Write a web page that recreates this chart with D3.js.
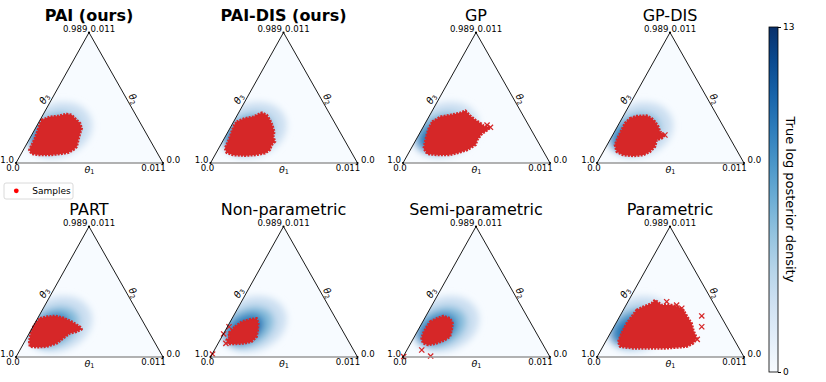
<!DOCTYPE html>
<html>
<head>
<meta charset="utf-8">
<script src="https://cdn.jsdelivr.net/npm/d3@7"></script>
<style>
  body { margin: 0; background: #fff; }
  text { font-family: "DejaVu Sans", sans-serif; fill: #000; }
</style>
</head>
<body>
<svg id="chart" width="826" height="382"></svg>
<script>
// all theta values are in units of 1e-3 (the plotted corner of the simplex goes up to 0.011)
const titles = ["PAI (ours)", "PAI-DIS (ours)", "GP", "GP-DIS",
                "PART", "Non-parametric", "Semi-parametric", "Parametric"];
const boldTitle = [true, true, false, false, false, false, false, false];
const thetaMax = 11;
const apexLabels = ["0.989", "0.011"];
const leftLabels = ["1.0", "0.0"];
const rightLabels = ["0.0", "0.011"];
const axisNames = ["1", "2", "3"];
const colorbarTicks = [0, 13];
const colorbarLabel = "True log posterior density";
const legendLabel = "Samples";

// true posterior: nested blobs [theta1, theta2, spread1, spread2, tilt, log density]
const density = [
  [1.76, 2.78, 2.62, 2.02, -20, 2.8],
  [1.59, 2.53, 2.02, 1.42, -25, 5.6],
  [1.37, 2.36, 1.65, 1.05, -30, 8.4],
  [1.56, 2.28, 1.12, 0.67, -25, 10.4]
];

// outline of each sample cloud, [theta1, theta2]
const clouds = [
  [[0.12,3.62],[0.61,3.90],[1.20,3.96],[1.74,4.13],[2.16,4.05],[2.74,3.62],[3.13,3.35],[3.46,2.93],
   [3.55,2.50],[3.70,1.94],[3.86,1.37],[3.74,1.10],[3.48,0.87],[2.92,0.76],[2.21,0.67],[1.46,0.67],
   [0.80,0.76],[0.45,1.10],[0.42,1.52],[0.39,2.08],[0.28,2.64],[0.15,3.20]],
  [[0.23,3.48],[0.71,3.77],[1.26,3.90],[1.73,4.24],[2.20,4.05],[2.65,3.62],[3.03,3.20],[3.46,2.64],
   [3.60,2.22],[3.93,1.80],[3.82,1.52],[3.90,1.10],[3.67,0.82],[2.99,0.67],[2.27,0.62],[1.37,0.67],
   [0.78,0.87],[0.47,1.24],[0.43,1.66],[0.36,2.22],[0.25,2.78],[0.19,3.20]],
  [[0.46,3.48],[0.87,3.90],[1.54,4.05],[2.20,4.24],[2.48,4.41],[3.08,3.96],[3.62,3.62],[4.14,3.35],
   [4.50,3.12],[5.05,3.01],[4.86,2.64],[4.68,2.50],[4.59,1.94],[4.67,1.52],[4.26,1.10],[3.74,0.87],
   [3.09,0.67],[2.34,0.67],[1.44,0.76],[0.94,1.24],[0.72,1.94],[0.57,2.50],[0.48,2.93]],
  [[0.60,3.77],[1.00,3.96],[1.74,3.99],[2.22,3.77],[2.61,3.48],[3.07,3.06],[3.40,2.64],[3.91,2.36],
   [3.81,2.08],[3.50,1.94],[3.66,1.37],[3.49,0.95],[3.13,0.67],[2.42,0.59],[1.63,0.67],[1.00,0.95],
   [0.59,1.52],[0.49,2.22],[0.46,2.78],[0.43,3.35]],
  [[0.18,3.26],[0.61,3.40],[1.20,3.46],[1.89,3.31],[2.69,2.98],[3.52,2.55],[3.75,2.34],[3.48,2.13],
   [3.04,2.00],[2.75,1.58],[2.47,1.15],[1.86,0.87],[1.14,0.82],[0.61,0.87],[0.35,1.29],[0.10,2.00],
   [0.03,2.55],[0.07,2.98]],
  [[0.57,2.55],[0.86,2.98],[1.38,3.18],[1.84,3.26],[2.16,2.84],[2.40,2.28],[2.60,1.71],[2.44,1.29],
   [2.00,1.15],[1.29,1.10],[0.79,1.10],[0.50,1.43],[0.61,1.71],[0.34,2.00],[0.46,2.28]],
  [[0.55,2.98],[0.91,3.26],[1.30,3.46],[1.90,3.26],[2.30,2.84],[2.51,2.28],[2.66,1.71],[2.43,1.43],
   [1.94,1.15],[1.39,1.01],[0.94,1.15],[0.61,1.58],[0.52,2.00],[0.51,2.55]],
  [[1.00,3.96],[1.36,4.24],[1.85,4.53],[1.95,4.81],[2.66,4.38],[3.41,4.38],[3.98,4.24],[4.49,3.96],
   [5.21,3.26],[5.67,2.84],[6.07,2.28],[6.67,1.58],[6.63,1.15],[6.28,0.87],[4.85,0.73],[3.60,0.73],
   [2.35,0.73],[1.29,0.87],[0.95,1.29],[0.85,2.00],[0.81,2.84],[0.91,3.40]]
];

// stray samples outside the main clouds
const outliers = [
  [], [], [[5.05,3.01],[4.70,3.20]], [[3.91,2.36]], [],
  [[0.12,2.55],[0.02,1.94],[0.58,1.15],[0.03,0.25]],
  [[1.11,0.59],[2.03,0.08],[0.03,0.04]],
  [[2.90,4.66],[3.78,4.38],[4.30,4.11],[6.12,3.46],[6.57,2.55],[6.76,1.49]]
];

const colX = [16, 210.5, 403, 597];
const rowY = [163, 357];
const triW = 147, triH = 130.5, apexDx = 73;
const red = "#d62728";

const svg = d3.select("#chart");
const defs = svg.append("defs");
defs.append("filter").attr("id", "blur")
    .attr("x", "-40%").attr("y", "-40%").attr("width", "180%").attr("height", "180%")
  .append("feGaussianBlur").attr("stdDeviation", 3.6);

const color = d3.scaleSequential(d3.interpolateBlues).domain([0, 13]);
const su = d3.scaleLinear().domain([0, thetaMax]).range([0, 1]);

titles.forEach((title, i) => {
  const col = i % 4, row = Math.floor(i / 4);
  const L = [colX[col], rowY[row]];
  const R = [L[0] + triW, L[1]];
  const A = [L[0] + apexDx, L[1] - triH];
  const pos = (t1, t2) => {
    const u = su(t1), v = su(t2);
    return [L[0] + u * (R[0] - L[0]) + v * (A[0] - L[0]), L[1] + v * (A[1] - L[1])];
  };
  const g = svg.append("g");

  const clipId = "clip" + i;
  defs.append("clipPath").attr("id", clipId)
    .append("polygon").attr("points", [L, R, A].map(p => p.join(",")).join(" "));

  g.append("polygon")
    .attr("points", [L, R, A].map(p => p.join(",")).join(" "))
    .attr("fill", color(0));

  // density
  const dg = g.append("g").attr("clip-path", `url(#${clipId})`)
    .append("g").attr("filter", "url(#blur)");
  dg.selectAll("ellipse").data(density).enter().append("ellipse")
    .attr("transform", d => {
      const p = pos(d[0], d[1]);
      return `translate(${p[0]},${p[1]}) rotate(${d[4]})`;
    })
    .attr("rx", d => su(d[2]) * triW)
    .attr("ry", d => su(d[3]) * triW)
    .attr("fill", d => color(d[5]));

  // samples
  g.append("path")
    .attr("d", d3.line().curve(d3.curveLinearClosed)(clouds[i].map(d => pos(d[0], d[1]))))
    .attr("fill", red)
    .attr("stroke", red)
    .attr("stroke-width", 2.6)
    .attr("stroke-dasharray", "2,1.2")
    .attr("stroke-linejoin", "round");

  g.selectAll(".out").data(outliers[i]).enter().append("path")
    .attr("transform", d => "translate(" + pos(d[0], d[1]).join(",") + ")")
    .attr("d", "M-2.6,-2.6L2.6,2.6M-2.6,2.6L2.6,-2.6")
    .attr("stroke", red)
    .attr("stroke-width", 1.3)
    .attr("fill", "none");

  // frame
  g.append("line").attr("x1", L[0]).attr("y1", L[1]).attr("x2", R[0]).attr("y2", R[1])
    .attr("stroke", "#999").attr("stroke-width", 1.6);
  g.append("path").attr("d", `M${L}L${A}L${R}`)
    .attr("fill", "none").attr("stroke", "#000").attr("stroke-width", 0.9);
  [L, R, A].forEach(p => {
    g.append("circle").attr("cx", p[0]).attr("cy", p[1]).attr("r", 1.1).attr("fill", "#000");
  });

  const small = 8.6;
  g.append("text").attr("x", A[0] - 1.5).attr("y", A[1] - 0.5).attr("text-anchor", "end")
    .attr("font-size", small).text(apexLabels[0]);
  g.append("text").attr("x", A[0] + 1.5).attr("y", A[1] - 0.5)
    .attr("font-size", small).text(apexLabels[1]);
  g.append("text").attr("x", L[0] - 2).attr("y", L[1]).attr("text-anchor", "end")
    .attr("font-size", small).text(leftLabels[0]);
  g.append("text").attr("x", L[0] - 3).attr("y", L[1] + 8.3).attr("text-anchor", "middle")
    .attr("font-size", small).text(leftLabels[1]);
  g.append("text").attr("x", R[0] + 3.5).attr("y", R[1])
    .attr("font-size", small).text(rightLabels[0]);
  g.append("text").attr("x", R[0] + 2.8).attr("y", R[1] + 8.3).attr("text-anchor", "end")
    .attr("font-size", small).text(rightLabels[1]);

  const axisLabel = (x, y, rot, k) => {
    const t = g.append("text").attr("text-anchor", "middle").attr("font-size", 9.5)
      .attr("transform", `translate(${x},${y}) rotate(${rot})`).attr("dy", "0.35em");
    t.append("tspan").attr("font-style", "italic").text("\u03b8");
    t.append("tspan").attr("font-size", 6.5).attr("dy", "0.25em").text(axisNames[k]);
  };
  axisLabel((L[0] + R[0]) / 2, L[1] + 6.5, 0, 0);
  axisLabel((L[0] + A[0]) / 2 - 8.5, (L[1] + A[1]) / 2 + 1, -60, 2);
  axisLabel((R[0] + A[0]) / 2 + 7.5, (R[1] + A[1]) / 2 + 1, 60, 1);

  g.append("text")
    .attr("x", A[0]).attr("y", A[1] - 11.5)
    .attr("text-anchor", "middle")
    .attr("font-size", 16)
    .attr("font-weight", boldTitle[i] ? "bold" : "normal")
    .text(title);
});

// legend
const lg = svg.append("g");
lg.append("rect").attr("x", 4).attr("y", 183).attr("width", 69).attr("height", 16)
  .attr("rx", 2).attr("fill", "#fff").attr("stroke", "#d0d0d0").attr("stroke-width", 0.8);
lg.append("circle").attr("cx", 16.3).attr("cy", 190.8).attr("r", 2.4).attr("fill", "red");
lg.append("text").attr("x", 32.3).attr("y", 194).attr("font-size", 9).text(legendLabel);

// colorbar
const cbX = 769, cbY = 27, cbW = 9, cbH = 345;
const grad = defs.append("linearGradient").attr("id", "cbgrad")
  .attr("x1", 0).attr("y1", 1).attr("x2", 0).attr("y2", 0);
d3.range(0, 1.0001, 0.1).forEach(t => {
  grad.append("stop").attr("offset", t).attr("stop-color", d3.interpolateBlues(t));
});
svg.append("rect").attr("x", cbX).attr("y", cbY).attr("width", cbW).attr("height", cbH)
  .attr("fill", "url(#cbgrad)").attr("stroke", "#000").attr("stroke-width", 0.8);
const cbScale = d3.scaleLinear().domain(d3.extent(colorbarTicks)).range([cbY + cbH, cbY]);
const cbAxis = svg.append("g").attr("transform", `translate(${cbX + cbW},0)`)
  .call(d3.axisRight(cbScale).tickValues(colorbarTicks).tickSize(3).tickPadding(2));
cbAxis.select(".domain").remove();
cbAxis.selectAll("text").attr("font-size", 9).attr("font-family", "DejaVu Sans");
svg.append("text")
  .attr("transform", `translate(786,${cbY + cbH / 2}) rotate(90)`)
  .attr("text-anchor", "middle").attr("font-size", 13)
  .text(colorbarLabel);
</script>
</body>
</html>
